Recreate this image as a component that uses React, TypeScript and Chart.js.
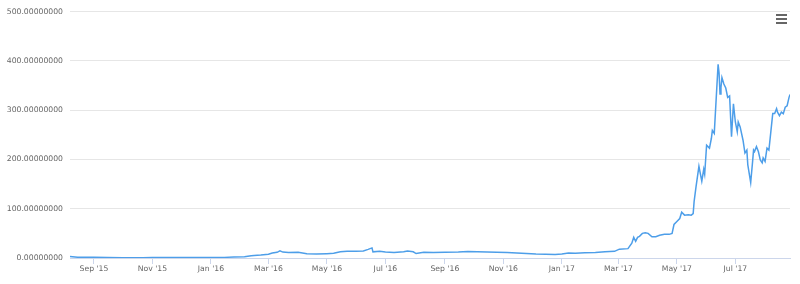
import React, { useEffect, useRef } from "react";
import { Chart, registerables } from "chart.js";

Chart.register(...registerables);

const dates: string[] = [
  "2015-08-07", "2015-08-15", "2015-08-22", "2015-09-01", "2015-09-15", "2015-10-01",
  "2015-10-15", "2015-10-22", "2015-11-01", "2015-11-15", "2015-12-01", "2015-12-15",
  "2016-01-01", "2016-01-15", "2016-01-25", "2016-02-05", "2016-02-12", "2016-02-15",
  "2016-02-22", "2016-03-01", "2016-03-05", "2016-03-10", "2016-03-13", "2016-03-16",
  "2016-03-22", "2016-04-01", "2016-04-10", "2016-04-20", "2016-05-01", "2016-05-08",
  "2016-05-15", "2016-05-22", "2016-05-31", "2016-06-08", "2016-06-13", "2016-06-17",
  "2016-06-18", "2016-06-25", "2016-07-01", "2016-07-10", "2016-07-20", "2016-07-24",
  "2016-07-30", "2016-08-02", "2016-08-10", "2016-08-20", "2016-09-01", "2016-09-15",
  "2016-09-25", "2016-10-05", "2016-10-15", "2016-10-25", "2016-11-05", "2016-11-15",
  "2016-11-25", "2016-12-05", "2016-12-15", "2016-12-25", "2017-01-01", "2017-01-08",
  "2017-01-15", "2017-01-25", "2017-02-05", "2017-02-15", "2017-02-25", "2017-03-02",
  "2017-03-11", "2017-03-15", "2017-03-17", "2017-03-19", "2017-03-21", "2017-03-23",
  "2017-03-26", "2017-03-29", "2017-04-01", "2017-04-05", "2017-04-09", "2017-04-13",
  "2017-04-18", "2017-04-23", "2017-04-26", "2017-04-28", "2017-05-01", "2017-05-04",
  "2017-05-06", "2017-05-09", "2017-05-13", "2017-05-16", "2017-05-18", "2017-05-19",
  "2017-05-21", "2017-05-24", "2017-05-27", "2017-05-29", "2017-05-30", "2017-06-01",
  "2017-06-04", "2017-06-06", "2017-06-07", "2017-06-09", "2017-06-11", "2017-06-13",
  "2017-06-14", "2017-06-15", "2017-06-16", "2017-06-17", "2017-06-19", "2017-06-21",
  "2017-06-23", "2017-06-25", "2017-06-27", "2017-06-29", "2017-07-01", "2017-07-03",
  "2017-07-04", "2017-07-06", "2017-07-09", "2017-07-11", "2017-07-13", "2017-07-14",
  "2017-07-17", "2017-07-19", "2017-07-20", "2017-07-21", "2017-07-23", "2017-07-25",
  "2017-07-27", "2017-07-29", "2017-07-30", "2017-08-01", "2017-08-03", "2017-08-05",
  "2017-08-07", "2017-08-09", "2017-08-11", "2017-08-13", "2017-08-14", "2017-08-16",
  "2017-08-18", "2017-08-20", "2017-08-22", "2017-08-24", "2017-08-26", "2017-08-27",
];

const prices: number[] = [
  2.8, 1.5, 1.4, 1.3, 0.95, 0.7,
  0.55, 0.6, 1.0, 0.9, 0.87, 0.85,
  0.95, 1.2, 2.2, 2.6, 4.5, 5.2,
  6.0, 7.5, 10, 11.5, 14.5, 12,
  11, 11.5, 8.5, 8, 8.8, 9.5,
  12.8, 13.5, 13.8, 14.2, 17.5, 20.5,
  12.5, 13.5, 12.2, 11, 12.5, 14,
  12.6, 9, 11.5, 11, 11.8, 12.2,
  13, 12.8, 12, 11.5, 11, 10,
  9, 8, 7.8, 7.3, 8.2, 10,
  9.8, 10.5, 11.3, 12.7, 13.5, 18,
  19, 30, 42, 34, 42, 44,
  50, 51, 50, 43, 43, 46,
  48, 48, 50, 68, 74, 80,
  93, 87, 88, 87, 90, 115,
  145, 186, 156, 180, 170, 229,
  223, 243, 259, 253, 323, 393,
  376, 333, 346, 366, 353, 345,
  326, 329, 246, 313, 276, 256,
  276, 266, 239, 213, 219, 189,
  153, 196, 219, 216, 226, 216,
  199, 193, 203, 196, 223, 219,
  256, 293, 293, 303, 296, 289,
  296, 293, 306, 309, 326, 332,
];

const tickMonths: string[] = [
  "2015-09-01", "2015-11-01", "2016-01-01", "2016-03-01", "2016-05-01", "2016-07-01",
  "2016-09-01", "2016-11-01", "2017-01-01", "2017-03-01", "2017-05-01", "2017-07-01",
];

const monthNames = ["Jan", "Feb", "Mar", "Apr", "May", "Jun", "Jul", "Aug", "Sep", "Oct", "Nov", "Dec"];

const yMax = 500;
const yStep = 100;

function toTs(s: string): number {
  const [y, m, d] = s.split("-").map(Number);
  return Date.UTC(y, m - 1, d);
}

export default function App() {
  const ref = useRef<HTMLCanvasElement | null>(null);

  useEffect(() => {
    document.body.style.margin = "0";
    const canvas = ref.current;
    if (!canvas) return;
    const points = dates.map((d, i) => ({ x: toTs(d), y: prices[i] }));
    const tickValues = tickMonths.map(toTs);
    const font = { family: "'DejaVu Sans', Verdana, sans-serif", size: 7.7 };
    const chart = new Chart(canvas, {
      type: "line",
      data: {
        datasets: [
          {
            data: points,
            borderColor: "#4d9ee9",
            borderWidth: 1.5,
            pointRadius: 0,
            tension: 0,
            fill: false,
          },
        ],
      },
      options: {
        animation: false,
        responsive: false,
        maintainAspectRatio: false,
        layout: { padding: { left: 0, right: 10, top: 11, bottom: 0 } },
        plugins: { legend: { display: false }, tooltip: { enabled: false } },
        scales: {
          x: {
            type: "linear",
            min: toTs(dates[0]),
            max: toTs(dates[dates.length - 1]),
            afterBuildTicks: (scale: any) => {
              scale.ticks = tickValues.map((v) => ({ value: v }));
            },
            afterFit: (scale: any) => {
              scale.height = 26;
            },
            grid: {
              drawOnChartArea: false,
              drawTicks: true,
              tickLength: 6,
              tickColor: "#ccd6eb",
              tickWidth: 1,
            },
            border: { display: true, color: "#ccd6eb", width: 1 },
            ticks: {
              autoSkip: false,
              maxRotation: 0,
              padding: 0,
              color: "#666666",
              font,
              callback: (v: any) => {
                const d = new Date(Number(v));
                return `${monthNames[d.getUTCMonth()]} '${String(d.getUTCFullYear()).slice(2)}`;
              },
            },
          },
          y: {
            min: 0,
            max: yMax,
            afterFit: (scale: any) => {
              scale.width = 70;
            },
            grid: { color: "#e6e6e6", drawTicks: false, lineWidth: 1 },
            border: { display: false },
            ticks: {
              stepSize: yStep,
              padding: 7,
              color: "#666666",
              font,
              callback: (v: any) => Number(v).toFixed(8),
            },
          },
        },
      },
    });
    return () => chart.destroy();
  }, []);

  const bar: React.CSSProperties = {
    position: "absolute",
    left: 776,
    width: 11,
    height: 2,
    background: "#666666",
  };

  return (
    <div style={{ position: "relative", width: 800, height: 284, background: "#ffffff" }}>
      <canvas ref={ref} width={800} height={284} style={{ display: "block" }} />
      <div style={{ ...bar, top: 14 }} />
      <div style={{ ...bar, top: 18 }} />
      <div style={{ ...bar, top: 22 }} />
    </div>
  );
}
